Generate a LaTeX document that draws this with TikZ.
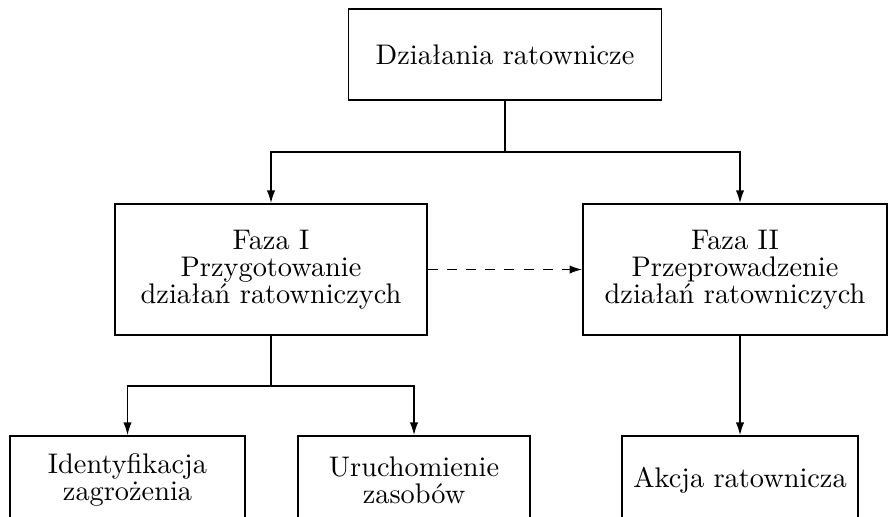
\documentclass[tikz,border=0pt]{standalone}
\usepackage{fontspec}
\usetikzlibrary{arrows.meta}
\begin{document}
\begin{tikzpicture}[x=0.36pt,y=-0.36pt,
  box/.style={draw,line width=0.55pt,align=center,inner sep=0pt,
    font=\fontsize{10.2}{9.8}\selectfont},
  link/.style={line width=0.55pt},
  arrowlink/.style={link,-{Latex[length=4.6pt,width=3pt]}},
  dashlink/.style={arrowlink,dash pattern=on 3.6pt off 3.3pt}]
  \clip (0,0) rectangle (889,516);
  % boxes
  \node[box,minimum width=112.7pt,minimum height=32.8pt] (top) at (505,54.5) {Działania ratownicze};
  \node[box,minimum width=112.3pt,minimum height=47.2pt] (f1) at (271,269.5)
    {Faza I\\Przygotowanie\\działań ratowniczych};
  \node[box,minimum width=109.4pt,minimum height=47.2pt] (f2) at (735,269.5)
    {Faza II\\Przeprowadzenie\\działań ratowniczych};
  \node[box,minimum width=84.6pt,minimum height=31.7pt] (b1) at (127.5,480)
    {Identyfikacja\\zagrożenia};
  \node[box,minimum width=83.5pt,minimum height=31.7pt] (b2) at (414,480)
    {Uruchomienie\\zasobów};
  \node[box,minimum width=85pt,minimum height=31.7pt] (b3) at (740,480)
    {Akcja ratownicza};
  % junctions
  \coordinate (j1) at (505,152);
  \coordinate (j2) at (271,386);
  % connectors
  \draw[link] (top) -- (j1);
  \draw[arrowlink] (j1) -| (f1);
  \draw[arrowlink] (j1) -| (f2.north -| b3);
  \draw[dashlink] (f1) -- (f2);
  \draw[link] (f1) -- (j2);
  \draw[arrowlink] (j2) -| (b1);
  \draw[arrowlink] (j2) -| (b2);
  \draw[arrowlink] (f2.south -| b3) -- (b3);
\end{tikzpicture}
\end{document}
